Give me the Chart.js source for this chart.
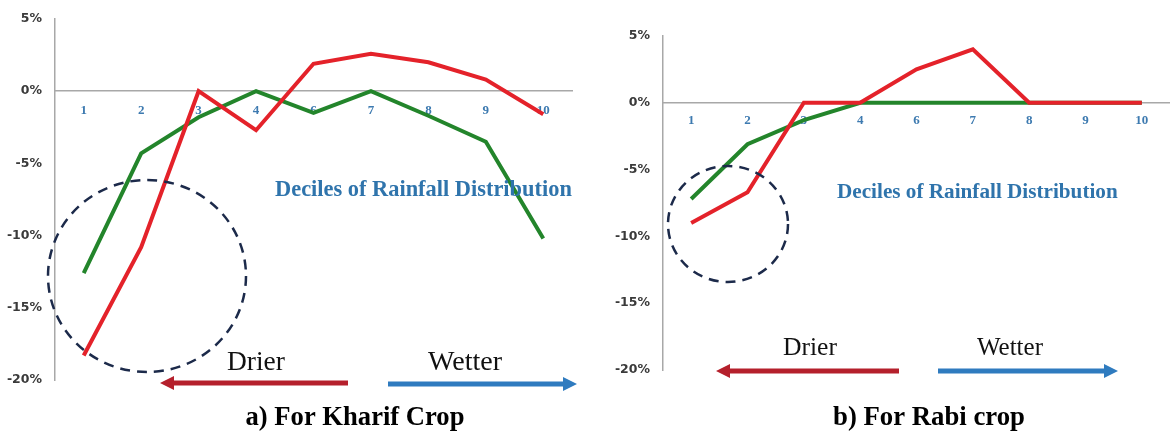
<!DOCTYPE html>
<html>
<head>
<meta charset="utf-8">
<script src="https://cdn.jsdelivr.net/npm/chart.js"></script>
<style>
  body { margin: 0; background: #fff; }
  .panel { position: absolute; top: 0; height: 433px; }
</style>
</head>
<body>
<div class="panel" style="left:0;width:585px"><canvas id="kharif"></canvas></div>
<div class="panel" style="left:585px;width:585px"><canvas id="rabi"></canvas></div>
<script>
// deciles of rainfall distribution (no 5th decile in the source)
var deciles = ["1", "2", "3", "4", "6", "7", "8", "9", "10"];
var yTicks = [-20, -15, -10, -5, 0, 5];

// a) Kharif crop, % change
var kharifRed = [-18.3, -10.8, 0, -2.7, 1.9, 2.6, 2.0, 0.8, -1.6];
var kharifGreen = [-12.6, -4.3, -1.8, 0, -1.5, 0, -1.7, -3.5, -10.2];

// b) Rabi crop, % change
var rabiRed = [-9.0, -6.7, 0, 0, 2.5, 4.0, 0, 0, 0];
var rabiGreen = [-7.2, -3.1, -1.3, 0, 0, 0, 0, 0, 0];

function fitSize(ctx, text, weight, family, width) {
  ctx.font = weight + " 100px " + family;
  return 100 * width / ctx.measureText(text).width;
}

function fitText(ctx, text, weight, family, x, y, width, color) {
  var size = fitSize(ctx, text, weight, family, width);
  ctx.font = weight + " " + size + "px " + family;
  ctx.fillStyle = color;
  ctx.textAlign = "left";
  ctx.textBaseline = "middle";
  ctx.fillText(text, x, y);
}

function arrow(ctx, from, to, y, color) {
  var dir = to > from ? 1 : -1;
  ctx.strokeStyle = color;
  ctx.fillStyle = color;
  ctx.lineWidth = 5;
  ctx.setLineDash([]);
  ctx.beginPath();
  ctx.moveTo(from, y);
  ctx.lineTo(to - dir * 10, y);
  ctx.stroke();
  ctx.beginPath();
  ctx.moveTo(to, y);
  ctx.lineTo(to - dir * 14, y - 7);
  ctx.lineTo(to - dir * 14, y + 7);
  ctx.closePath();
  ctx.fill();
}

var overlay = {
  id: "overlay",
  afterDraw: function (chart, args, o) {
    var ctx = chart.ctx;
    ctx.save();
    // dashed circle round the driest deciles
    ctx.strokeStyle = "#1c2a4a";
    ctx.lineWidth = 2.5;
    ctx.setLineDash([10, 7]);
    ctx.beginPath();
    ctx.ellipse(o.circle[0], o.circle[1], o.circle[2], o.circle[3], 0, 0, Math.PI * 2);
    ctx.stroke();

    fitText(ctx, "Deciles of Rainfall Distribution", "bold", "'Liberation Serif'", o.deciles[0], o.deciles[1], o.deciles[2], "#2f74ac");
    fitText(ctx, "Drier", "normal", "'Liberation Serif'", o.drier[0], o.drier[1], o.drier[2], "#111");
    fitText(ctx, "Wetter", "normal", "'Liberation Serif'", o.wetter[0], o.wetter[1], o.wetter[2], "#111");
    arrow(ctx, o.redArrow[0], o.redArrow[1], o.redArrow[2], "#b5202c");
    arrow(ctx, o.blueArrow[0], o.blueArrow[1], o.blueArrow[2], "#2f7bbf");

    var size = fitSize(ctx, o.title[0], "bold", "'Liberation Serif'", o.title[3]);
    ctx.font = "bold " + size + "px 'Liberation Serif'";
    ctx.fillStyle = "#000";
    ctx.textAlign = "center";
    ctx.textBaseline = "middle";
    ctx.fillText(o.title[0], o.title[1], o.title[2]);
    ctx.restore();
  }
};

function makeChart(id, red, green, axisWidth, padding, tickPad, extras) {
  return new Chart(id, {
    type: "line",
    data: {
      labels: deciles,
      datasets: [
        { label: "Red", data: red, borderColor: "#e4222a", borderWidth: 4, pointRadius: 0, tension: 0 },
        { label: "Green", data: green, borderColor: "#23852b", borderWidth: 4, pointRadius: 0, tension: 0 }
      ]
    },
    options: {
      responsive: true,
      maintainAspectRatio: false,
      animation: false,
      layout: { padding: padding },
      plugins: {
        legend: { display: false },
        tooltip: { enabled: false },
        overlay: extras
      },
      scales: {
        x: {
          position: { y: 0 },
          offset: true,
          grid: { display: false },
          border: { display: true, color: "#a8a8a8", width: 1.5 },
          ticks: { color: "#3d7ab0", padding: tickPad, maxRotation: 0, font: { family: "'Liberation Serif'", weight: "bold", size: 13 } }
        },
        y: {
          min: -20,
          max: 5,
          afterBuildTicks: function (s) { s.ticks = yTicks.map(function (v) { return { value: v }; }); },
          afterFit: function (s) { s.width = axisWidth; },
          grid: { display: false },
          border: { display: true, color: "#a8a8a8", width: 1.5 },
          ticks: {
            color: "#3a3a3a",
            padding: 5,
            font: { family: "'DejaVu Sans'", weight: "bold", size: 12.5 },
            callback: function (v) { return v + "%"; }
          }
        }
      }
    },
    plugins: [overlay]
  });
}

makeChart("kharif", kharifRed, kharifGreen, 55, { top: 19, right: 13, bottom: 53, left: 0 }, 4, {
  circle: [147, 276, 99, 96],
  deciles: [275, 190, 297],
  drier: [227, 363, 58],
  wetter: [428, 363, 74],
  redArrow: [348, 160, 383],
  blueArrow: [388, 577, 384],
  title: ["a) For Kharif Crop", 355, 418, 219]
});

makeChart("rabi", rabiRed, rabiGreen, 78, { top: 36, right: 0, bottom: 63, left: 0 }, 2, {
  circle: [143, 224, 60, 58],
  deciles: [252, 193, 281],
  drier: [198, 348, 54],
  wetter: [392, 348, 66],
  redArrow: [314, 131, 371],
  blueArrow: [353, 533, 371],
  title: ["b) For Rabi crop", 344, 418, 192]
});
</script>
</body>
</html>
